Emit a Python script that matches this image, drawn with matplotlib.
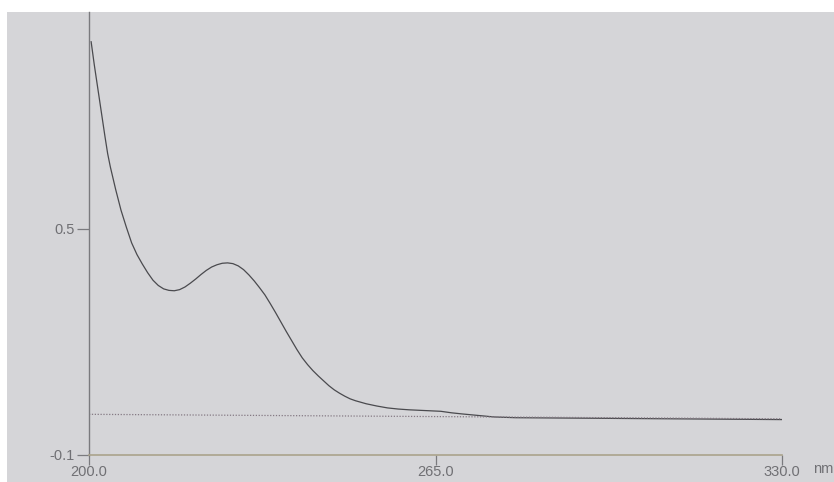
import matplotlib.pyplot as plt
from matplotlib.patches import Rectangle

# absorbance spectrum (nm, Abs)
wavelength = [200.4, 201, 202, 203, 203.5, 204, 205, 206, 207, 208, 209, 210,
              211, 212, 213, 214, 215, 216, 217, 218, 219, 220, 221, 222, 223,
              224, 225, 226, 227, 228, 229, 230, 231, 232, 233, 234, 235, 236,
              237, 238, 239, 240, 241, 242, 243, 244, 245, 246, 247, 248, 249,
              250, 252, 254, 256, 258, 260, 263, 266, 268, 270, 273, 276, 280,
              290, 300, 310, 320, 330]
absorbance = [0.997, 0.935, 0.84, 0.745, 0.70, 0.665, 0.605, 0.55, 0.505,
              0.463, 0.432, 0.407, 0.384, 0.364, 0.350, 0.341, 0.337, 0.336,
              0.339, 0.346, 0.356, 0.367, 0.379, 0.390, 0.399, 0.405, 0.409,
              0.410, 0.408, 0.402, 0.392, 0.378, 0.362, 0.344, 0.325, 0.302,
              0.278, 0.253, 0.228, 0.204, 0.180, 0.158, 0.140, 0.124, 0.110,
              0.097, 0.084, 0.073, 0.064, 0.056, 0.049, 0.044, 0.036, 0.030,
              0.025, 0.022, 0.020, 0.018, 0.016, 0.012, 0.009, 0.005, 0.001,
              -0.001, -0.002, -0.003, -0.004, -0.005, -0.006]

# reference baseline (dotted)
baseline_x = [200, 330]
baseline_y = [0.008, -0.004]

x_ticks = [200, 265, 330]
y_ticks = [-0.1, 0.5]

W, H = 834, 482
fig = plt.figure(figsize=(W / 100, H / 100), dpi=100, facecolor="white")
# paper area (white margin at top and left)
fig.patches.append(Rectangle((7 / W, 0), 1 - 7 / W, 470 / H,
                             transform=fig.transFigure, facecolor="#d5d5d8",
                             edgecolor="none", zorder=-10))

ax = fig.add_axes([89 / W, 27 / H, 693 / W, 443 / H])
ax.set_zorder(5)
ax.set_facecolor("none")
ax.plot(wavelength, absorbance, color="#4a4a4e", lw=0.9)
ax.plot(baseline_x, baseline_y, color="#857a84", lw=0.9, linestyle=(0, (1, 1.3)))

ax.set_xlim(200, 330)
ax.set_ylim(-0.1, 1.076)
ax.set_xticks(x_ticks)
ax.set_xticklabels([f"{v:.1f}" for v in x_ticks])
ax.set_yticks(y_ticks)
ax.set_yticklabels([f"{v:.1f}" for v in y_ticks])

for side in ("top", "right"):
    ax.spines[side].set_visible(False)
ax.spines["left"].set_color("#7a7a7e")
ax.spines["bottom"].set_color("#aaa38c")
ax.spines["left"].set_linewidth(1.0)
ax.spines["bottom"].set_linewidth(1.2)

ax.tick_params(axis="x", direction="out", length=7, width=0.9, colors="#7a7a7e",
               labelcolor="#707074", labelsize=10.5, pad=0.5)
ax.tick_params(axis="y", direction="out", length=9, width=0.9, colors="#7a7a7e",
               labelcolor="#707074", labelsize=10.5, pad=1)
for lbl in ax.get_xticklabels() + ax.get_yticklabels():
    lbl.set_fontfamily("Liberation Sans")

fig.text(813 / W, (H - 469) / H, "nm", color="#707074", fontsize=10.5,
         family="Liberation Sans", va="center", ha="left")

fig.savefig("out.png", dpi=100, facecolor=fig.get_facecolor())
